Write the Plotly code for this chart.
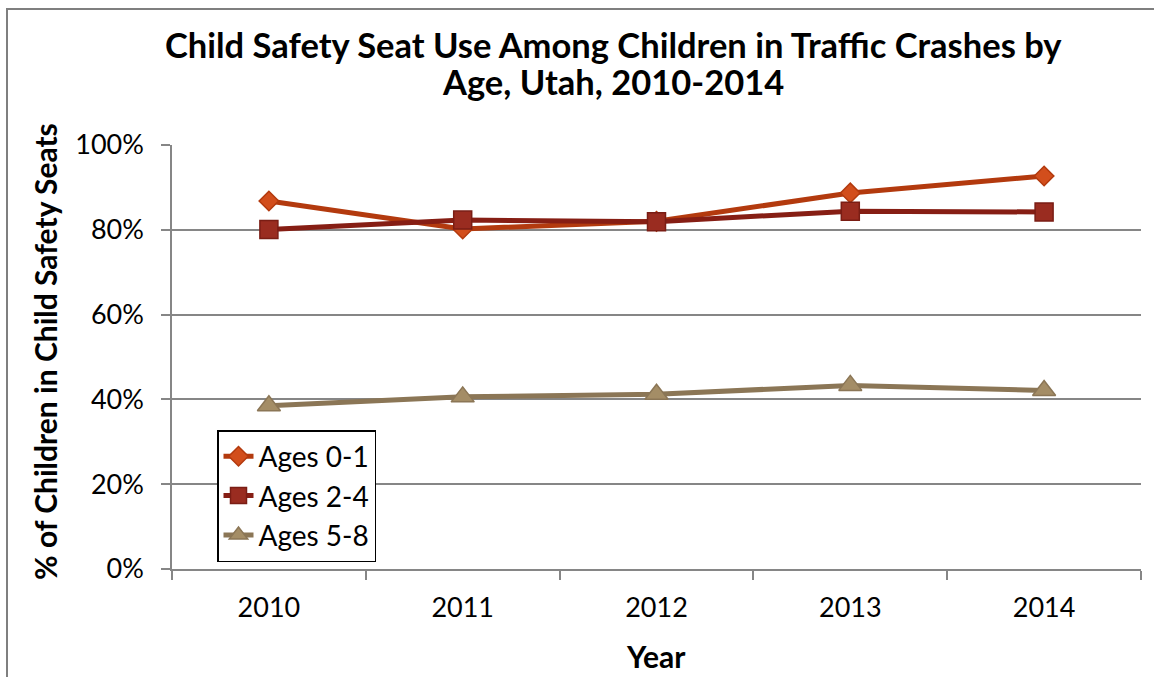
import plotly.graph_objects as go

# Survey years and share of children restrained in child safety seats
years = ["2010", "2011", "2012", "2013", "2014"]
ages_0_1 = [0.868, 0.802, 0.820, 0.887, 0.927]
ages_2_4 = [0.801, 0.823, 0.819, 0.844, 0.842]
ages_5_8 = [0.385, 0.406, 0.412, 0.433, 0.421]

series = [
    ("Ages 0-1", ages_0_1, "#B33A0E", "diamond", 15, "#D24E1C", "#B33A0E"),
    ("Ages 2-4", ages_2_4, "#861E14", "square", 18, "#9A2C20", "#7A1D14"),
    ("Ages 5-8", ages_5_8, "#8B7656", "triangle-up", 20, "#A48D66", "#8B7656"),
]

W, H = 1154, 677
L, R, T, B = 172, 13, 145, 108
pw, ph = W - L - R, H - T - B


def px_x(x):
    return (x - L) / pw


def px_y(y):
    return (H - B - y) / ph


FONT = "Lato"

fig = go.Figure()
for name, vals, lc, sym, size, fc, ec in series:
    fig.add_trace(go.Scatter(
        x=years, y=vals, name=name, mode="lines+markers",
        line=dict(color=lc, width=5),
        marker=dict(symbol=sym, size=size, color=fc,
                    line=dict(color=ec, width=1.5)),
    ))

fig.update_layout(
    width=W, height=H,
    margin=dict(l=L, r=R, t=T, b=B),
    paper_bgcolor="white", plot_bgcolor="white",
    font=dict(family=FONT, color="black"),
    showlegend=True,
    legend=dict(
        x=px_x(217), y=px_y(430), xanchor="left", yanchor="top",
        bgcolor="white", bordercolor="black", borderwidth=1.5,
        font=dict(family=FONT, size=28, color="black"),
        tracegroupgap=0,
    ),
    xaxis=dict(
        type="category", range=[-0.5, 4.5],
        showgrid=False, showline=True, linecolor="#868686", linewidth=1.5,
        ticks="outside", tickson="boundaries", ticklen=9,
        tickcolor="#868686", tickwidth=1.5,
        tickfont=dict(family=FONT, size=27, color="black"),
        ticklabelstandoff=14,
        zeroline=False,
    ),
    yaxis=dict(
        range=[0, 1], dtick=0.2, tickformat=".0%",
        showgrid=True, gridcolor="#868686", gridwidth=1.5,
        showline=True, linecolor="#868686", linewidth=1.5,
        ticks="outside", ticklen=9, tickcolor="#868686", tickwidth=1.5,
        tickfont=dict(family=FONT, size=27, color="black"),
        ticklabelstandoff=12,
        zeroline=False,
    ),
)

# Chart frame
fig.add_shape(type="rect", xref="paper", yref="paper",
              x0=px_x(7), x1=px_x(W + 20), y0=px_y(H + 20), y1=px_y(9),
              line=dict(color="#7F7F7F", width=2), layer="below")

# Two-line chart title
title_lines = [
    ("Child Safety Seat Use Among Children in Traffic Crashes by", 44),
    ("Age, Utah, 2010-2014", 81),
]
for txt, yc in title_lines:
    fig.add_annotation(
        text="<b>" + txt + "</b>",
        xref="paper", yref="paper", x=px_x(613), y=px_y(yc),
        xanchor="center", yanchor="middle", showarrow=False,
        font=dict(family=FONT, size=34.5, color="black"),
    )

# Axis titles
fig.add_annotation(
    text="<b>% of Children in Child Safety Seats</b>",
    xref="paper", yref="paper", x=px_x(45), y=px_y(352),
    xanchor="center", yanchor="middle", showarrow=False, textangle=-90,
    font=dict(family=FONT, size=30, color="black"),
)
fig.add_annotation(
    text="<b>Year</b>",
    xref="paper", yref="paper", x=px_x(656), y=px_y(656),
    xanchor="center", yanchor="middle", showarrow=False,
    font=dict(family=FONT, size=30, color="black"),
)

fig.write_html("out.html")
